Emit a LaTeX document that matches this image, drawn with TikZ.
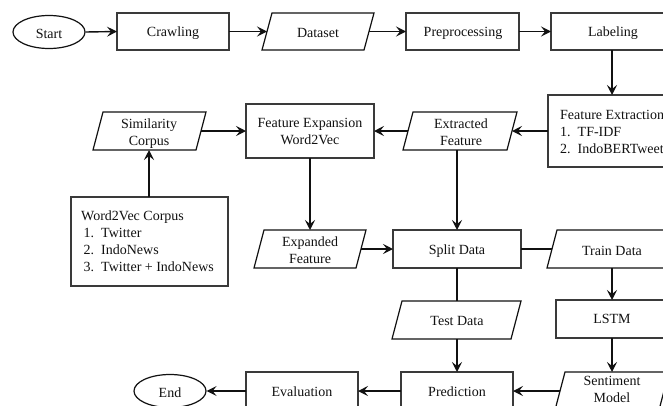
\documentclass[tikz,border=0pt]{standalone}
\usepackage{fontspec}
\setmainfont{Liberation Serif}
\usetikzlibrary{arrows.meta,shapes.geometric,calc}
\definecolor{ink}{HTML}{111111}
\definecolor{boxink}{HTML}{3A3A3A}
\tikzset{
  x=1pt,y=-1pt,
  flow/.style={draw=ink,line width=1.4pt,-{Stealth[length=10pt,width=10pt,inset=4pt]}},
  link/.style={draw=ink,line width=1.4pt},
  txt/.style={font=\fontsize{14}{17}\selectfont,text=ink,inner sep=0pt,align=center,anchor=base},
  boxed/.style={draw=boxink,line width=1.2pt,fill=white},
  slanted/.style={draw=ink,line width=1.2pt,fill=white},
  ell/.style={ellipse,draw=ink,line width=1.2pt,inner sep=0pt,font=\fontsize{14}{17}\selectfont,text=ink,minimum width=72pt,minimum height=33pt,text height=12pt,text depth=0pt},
}
\newcommand{\para}[5]{\coordinate (#1 w) at ({#2-5},{(#4+#5)/2});\coordinate (#1 e) at ({#3-5},{(#4+#5)/2});\coordinate (#1 n) at ({(#2+#3)/2-5},#4);\coordinate (#1 s) at ({(#2+#3)/2-5},#5);\draw[slanted] (#2,#4) -- (#3,#4) -- ({#3-10},#5) -- ({#2-10},#5) -- cycle;}
\newcommand{\bx}[5]{\coordinate (#1 w) at (#2,{(#4+#5)/2});\coordinate (#1 e) at (#3,{(#4+#5)/2});\coordinate (#1 n) at ({(#2+#3)/2},#4);\coordinate (#1 s) at ({(#2+#3)/2},#5);\draw[boxed] (#2,#4) rectangle (#3,#5);}
\begin{document}
\begin{tikzpicture}
\useasboundingbox[fill=white] (0,0) rectangle (663,405);
\clip (0,0) rectangle (663,405);
\node[ell] (start) at (49,32) {Start};
\node[ell] (endn) at (170,391) {End};
\bx{crawl}{117}{229}{13}{50}
\para{data}{272}{374}{13}{50}
\bx{prep}{406}{519}{13}{50}
\bx{label}{551}{700}{13}{50}
\bx{fext}{548}{700}{95}{167}
\para{extr}{413}{517}{112}{150}
\bx{fexp}{246}{374}{104}{158}
\para{sim}{103}{206}{112}{150}
\bx{corp}{71}{228}{197}{286}
\coordinate (corpup) at (149,197);
\para{expd}{264}{366}{230}{268}
\bx{split}{393}{521}{230}{268}
\para{train}{557}{720}{230}{268}
\para{test}{402}{521}{301}{339}
\bx{lstm}{556}{700}{300}{338}
\bx{pred}{401}{513}{372}{420}
\bx{eval}{246}{358}{372}{420}
\para{sent}{565}{669}{372}{410}
\node[txt] (tcrawl) at (173,36) {Crawling};
\node[txt] (tdata) at (318,37) {Dataset};
\node[txt] (tprep) at (463,36) {Preprocessing};
\node[txt] (tlabel) at (613,36) {Labeling};
\node[txt,align=left,anchor=north west] (tfext) at (560,110) {Feature Extraction\\1.\ \ TF-IDF\\2.\ \ IndoBERTweet};
\node[txt] (textr) at (461,145) {Extracted\\Feature};
\node[txt] (tfexp) at (310,144) {Feature Expansion\\Word2Vec};
\node[txt] (tsim) at (149,145) {Similarity\\Corpus};
\node[txt,align=left,anchor=north west] (tcorp) at (81,211) {Word2Vec Corpus\\\hspace*{2.5pt}1.\ \ Twitter\\\hspace*{2.5pt}2.\ \ IndoNews\\\hspace*{2.5pt}3.\ \ Twitter + IndoNews};
\node[txt] (texpd) at (310,263) {Expanded\\Feature};
\node[txt] (tsplit) at (457,254) {Split Data};
\node[txt] (ttrain) at (612,255) {Train Data};
\node[txt] (ttest) at (457,325) {Test Data};
\node[txt] (tlstm) at (612,323) {LSTM};
\node[txt] (tpred) at (457,396) {Prediction};
\node[txt] (teval) at (302,396) {Evaluation};
\node[txt] (tsent) at (612,402) {Sentiment\\Model};
\draw[flow] (start.east) -- (crawl w);
\draw[flow] (crawl e) -- (data w);
\draw[flow] (data e) -- (prep w);
\draw[flow] (prep e) -- (label w);
\draw[flow] (612,50) -- (612,95);
\draw[flow] (fext w |- extr e) -- (extr e);
\draw[flow] (extr w) -- (fexp e |- extr w);
\draw[flow] (sim e) -- (fexp w |- sim e);
\draw[flow] (corpup) -- (corpup |- sim s);
\draw[flow] (fexp s -| expd n) -- (expd n);
\draw[flow] (extr s -| split n) -- (split n);
\draw[flow] (expd e) -- (split w);
\draw[link] (split e) -- (train w);
\draw[link] (split s) -- (split s |- test n);
\draw[flow] (612,268) -- (612,300);
\draw[flow] (612,338) -- (612,372);
\draw[flow] (457,339) -- (457,372);
\draw[flow] (sent w |- 0,391) -- (513,391);
\draw[flow] (401,391) -- (358,391);
\draw[flow] (246,391) -- (endn.east);
\end{tikzpicture}
\end{document}
